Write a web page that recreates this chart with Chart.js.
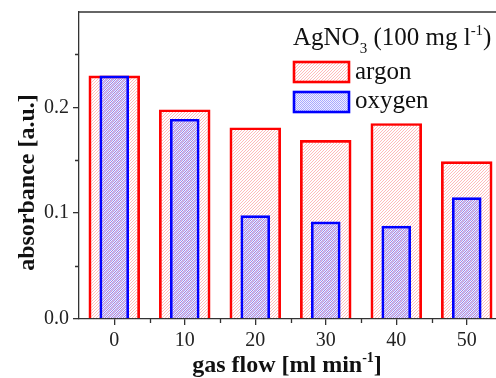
<!DOCTYPE html>
<html><head><meta charset="utf-8">
<script src="https://cdn.jsdelivr.net/npm/chart.js@4/dist/chart.umd.min.js"></script>
<style>html,body{margin:0;padding:0;overflow:hidden;background:#fff}#wrap{width:502px;height:378px}</style>
</head><body><div id="wrap"><canvas id="c" width="502" height="378"></canvas></div>
<script>
const categories = ['0', '10', '20', '30', '40', '50'];
const argonValues = [0.230, 0.198, 0.181, 0.169, 0.185, 0.149];
const oxygenValues = [0.230, 0.189, 0.098, 0.092, 0.088, 0.115];
const yTickValues = [0.0, 0.1, 0.2];
const yMinorTicks = [0.05, 0.15, 0.25];
const seriesNames = ['argon', 'oxygen'];

const SERIF = '"Liberation Serif", "DejaVu Serif", serif';
const AXIS = '#333';

function makePattern(kind) {
  const c = document.createElement('canvas');
  const ctx = c.getContext('2d');
  if (kind === 'red') {
    c.width = 3; c.height = 3;
    for (let x = 0; x < 3; x++) for (let y = 0; y < 3; y++) {
      if ((x + y) % 3 === 2) { ctx.fillStyle = 'rgba(255,120,120,0.5)'; ctx.fillRect(x, y, 1, 1); }
    }
  } else {
    c.width = 2; c.height = 2;
    ctx.fillStyle = 'rgba(50,50,255,0.42)';
    ctx.fillRect(0, 0, 1, 1); ctx.fillRect(1, 1, 1, 1);
    ctx.fillStyle = 'rgba(120,120,255,0.12)';
    ctx.fillRect(1, 0, 1, 1); ctx.fillRect(0, 1, 1, 1);
  }
  return document.getElementById('c').getContext('2d').createPattern(c, 'repeat');
}
const redPat = makePattern('red');
const bluePat = makePattern('blue');

function drawRich(ctx, parts, x, y, size, bold) {
  let cx = x;
  for (const [t, m] of parts) {
    const s = m === 'n' ? size : Math.round(size * 0.6);
    ctx.font = (bold ? 'bold ' : '') + s + 'px ' + SERIF;
    const dy = m === 'sub' ? size * 0.3 : (m === 'sup' ? -size * 0.42 : 0);
    ctx.fillText(t, cx, y + dy);
    cx += ctx.measureText(t).width;
  }
  return cx - x;
}
function measureRich(ctx, parts, size, bold) {
  let w = 0;
  for (const [t, m] of parts) {
    const s = m === 'n' ? size : Math.round(size * 0.6);
    ctx.font = (bold ? 'bold ' : '') + s + 'px ' + SERIF;
    w += ctx.measureText(t).width;
  }
  return w;
}

const decor = {
  id: 'decor',
  afterDraw(chart) {
    const ctx = chart.ctx;
    const a = chart.chartArea;
    const xs = chart.scales.x, ys = chart.scales.y;
    ctx.save();
    ctx.strokeStyle = AXIS; ctx.lineWidth = 1.3;
    ctx.beginPath(); ctx.moveTo(a.left, a.top); ctx.lineTo(a.right, a.top); ctx.stroke();
    ctx.beginPath();
    for (const v of yMinorTicks) { const p = Math.round(ys.getPixelForValue(v)) + 0.5; ctx.moveTo(a.left, p); ctx.lineTo(a.left - 4, p); }
    for (let i = 0; i < categories.length; i++) {
      const p = Math.round((xs.getPixelForValue(i) + xs.getPixelForValue(i + 1)) / 2) + 0.5;
      ctx.moveTo(p, a.bottom); ctx.lineTo(p, a.bottom + 4);
    }
    ctx.stroke();
    ctx.fillStyle = '#111';
    ctx.textBaseline = 'alphabetic'; ctx.textAlign = 'left';
    const xt = [['gas flow [ml min', 'n'], ['-1', 'sup'], [']', 'n']];
    const w = measureRich(ctx, xt, 24, true);
    drawRich(ctx, xt, 287 - w / 2, 372, 24, true);
    ctx.save();
    ctx.translate(34, 182.5);
    ctx.rotate(-Math.PI / 2);
    ctx.font = 'bold 24px ' + SERIF; ctx.textAlign = 'center';
    ctx.fillText('absorbance [a.u.]', 0, 0);
    ctx.restore();
    ctx.textAlign = 'left';
    drawRich(ctx, [['AgNO', 'n'], ['3', 'sub'], [' (100 mg l', 'n'], ['-1', 'sup'], [')', 'n']], 293, 45, 25, false);
    const ds = chart.data.datasets;
    const rows = [[ds[0], 62, 79], [ds[1], 92, 108]];
    for (const [d, y, by] of rows) {
      ctx.fillStyle = '#fff'; ctx.fillRect(294, y, 55, 20);
      ctx.fillStyle = d.backgroundColor; ctx.fillRect(294, y, 55, 20);
      ctx.strokeStyle = d.borderColor; ctx.lineWidth = 2.6;
      ctx.strokeRect(294, y, 55, 20);
      ctx.fillStyle = '#111'; ctx.font = '25px ' + SERIF;
      ctx.fillText(d.label, 355, by);
    }
    ctx.restore();
  }
};

new Chart(document.getElementById('c'), {
  type: 'bar',
  data: {
    labels: categories,
    datasets: [
      { label: seriesNames[0], data: argonValues, backgroundColor: redPat, borderColor: '#ff0000', borderWidth: 2.7,
        grouped: false, categoryPercentage: 1, barPercentage: 0.73, order: 2 },
      { label: seriesNames[1], data: oxygenValues, backgroundColor: bluePat, borderColor: '#0000ff', borderWidth: 2.7,
        grouped: false, categoryPercentage: 1, barPercentage: 0.42, order: 1 }
    ]
  },
  options: {
    responsive: false, animation: false, devicePixelRatio: 1,
    layout: { padding: { top: 12, right: 0, left: 0, bottom: 0 } },
    plugins: { legend: { display: false }, tooltip: { enabled: false } },
    scales: {
      x: {
        offset: true,
        grid: { display: true, offset: false, drawOnChartArea: false, drawTicks: true, tickLength: 6, color: AXIS, lineWidth: 1.3 },
        border: { display: true, color: AXIS, width: 1.3 },
        ticks: { font: { family: SERIF, size: 20 }, color: '#222', padding: 4, maxRotation: 0 },
        afterFit(s) { s.height = 59; s.paddingLeft = 0; s.paddingRight = 0; }
      },
      y: {
        min: 0, max: 0.29,
        afterBuildTicks(s) { s.ticks = yTickValues.map(v => ({ value: v })); },
        grid: { display: true, drawOnChartArea: false, drawTicks: true, tickLength: 6, color: AXIS, lineWidth: 1.3 },
        border: { display: true, color: AXIS, width: 1.3 },
        ticks: { font: { family: SERIF, size: 20 }, color: '#222', padding: 4, callback: v => v.toFixed(1) },
        afterFit(s) { s.width = 79; s.paddingTop = 0; s.paddingBottom = 0; }
      }
    }
  },
  plugins: [decor]
});
</script></body></html>
